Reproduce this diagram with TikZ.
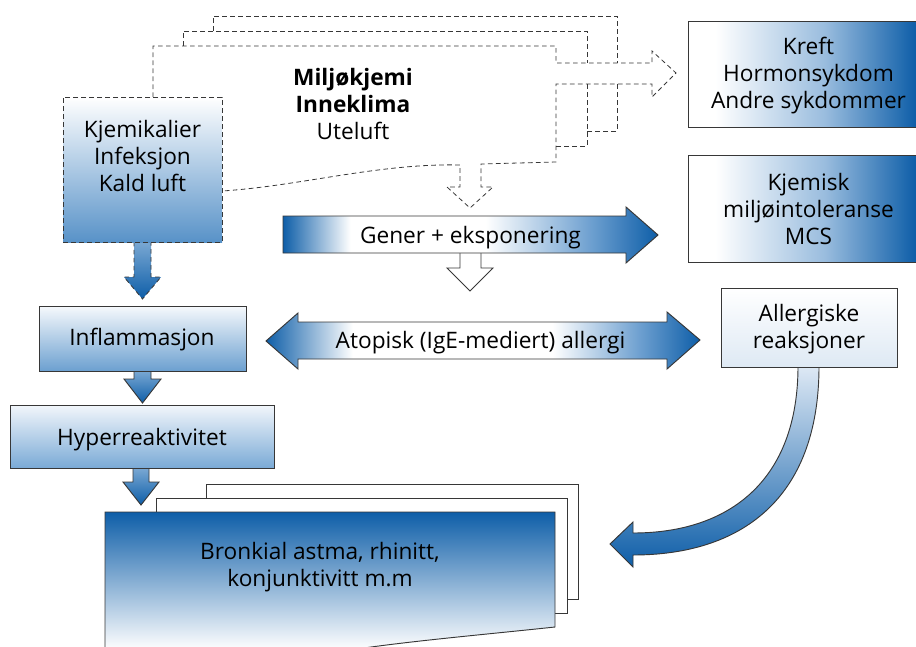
\documentclass[tikz,border=0pt]{standalone}
\usepackage{fontspec}
\setmainfont{Open Sans}
\usetikzlibrary{fit,calc}
\definecolor{blueD}{RGB}{14,94,168}
\definecolor{blueM}{RGB}{110,160,208}
\definecolor{blueK}{RGB}{88,146,200}
\definecolor{lineC}{RGB}{55,55,55}
\pgfdeclarehorizontalshading{genershade}{100bp}{color(0bp)=(blueD); color(25bp)=(blueD); color(34bp)=(white); color(52bp)=(white); color(66bp)=(blueM); color(75bp)=(blueD); color(100bp)=(blueD)}
\pgfdeclarehorizontalshading{atopshade}{100bp}{color(0bp)=(blueD); color(25bp)=(blueD); color(35bp)=(white); color(58bp)=(white); color(68bp)=(blueM); color(75bp)=(blueD); color(100bp)=(blueD)}
\pgfdeclarehorizontalshading{boxshade}{100bp}{color(0bp)=(white); color(25bp)=(white); color(31bp)=(white); color(55bp)=(blueM!70); color(75bp)=(blueD); color(100bp)=(blueD)}
\tikzset{
  txt/.style={font=\fontsize{17}{20.25}\selectfont, align=center, inner sep=0pt},
  frame/.style={draw=lineC, line width=0.7pt},
  dashline/.style={draw=lineC, line width=0.6pt, dash pattern=on 3.5pt off 2.5pt},
  box/.style={frame, inner sep=0pt},
  downarrow/.style={frame, top color=blueK!80, bottom color=blueD},
}
\begin{document}
\begin{tikzpicture}[x=0.75pt,y=-0.75pt]
\useasboundingbox (0,0) rectangle (916,646);

% ---- dashed environment shape ----
\path[dashline] (213,31) -- (213,16) -- (617,16) -- (617,63);
\path[dashline] (617,84) -- (617,131) -- (587,131);
\path[dashline] (183,46) -- (183,31) -- (587,31) -- (587,63);
\path[dashline] (587,84) -- (587,146) -- (556,146);
\path[dashline] (153,97) -- (153,46) -- (556,46) -- (556,63) -- (652,63) -- (652,51) -- (676,73) -- (652,97) -- (652,84) -- (556,84) -- (556,162) -- (481,164) -- (481,187) -- (493,187) -- (470,208) -- (447,187) -- (460,187) -- (460,165) .. controls (380,163) and (300,186) .. (222,191);
\node[txt] (env) at (353,104) {\textbf{Miljøkjemi}\\\textbf{Inneklima}\\Uteluft};

% ---- Kjemikalier box and its arrow ----
\path[dashline, top color=blueK!80, bottom color=blueD] (134,242) -- (151,242) -- (151,277) -- (161,277) -- (142.5,299) -- (124,277) -- (134,277) -- cycle;
\node[fit={(63,97)(222,242)}, inner sep=0pt, dashline, top color=white, bottom color=blueK] (kjem) {};
\node[txt] (kjemtxt) at (142.5,156) {Kjemikalier\\Infeksjon\\Kald luft};

% ---- left column ----
\path[downarrow] (134,371) -- (151,371) -- (151,379) -- (161,379) -- (142.5,403) -- (124,379) -- (134,379) -- cycle;
\node[fit={(39,306)(246,371)}, box, top color={rgb,255:red,246;green,249;blue,252}, bottom color={rgb,255:red,108;green,160;blue,208}] (infl) {};
\node[txt] (infltxt) at (142,340) {Inflammasjon};
\path[downarrow] (133,468) -- (149,468) -- (149,482) -- (159,482) -- (141,505) -- (123,482) -- (133,482) -- cycle;
\node[fit={(10,405)(274,468)}, box, top color={rgb,255:red,242;green,246;blue,251}, bottom color={rgb,255:red,122;green,170;blue,214}] (hyper) {};
\node[txt] (hypertxt) at (142,439.5) {Hyperreaktivitet};

% ---- Gener + eksponering ----
\path[frame, fill=white] (460,250) -- (460,268) -- (447,268) -- (470,291) -- (493,268) -- (481,268) -- (481,250);
\path[frame, shading=genershade] (283,216) -- (626,216) -- (626,207) -- (658,235) -- (626,263) -- (626,253) -- (283,253) -- cycle;
\node[txt] (gener) at (470.5,237.5) {Gener + eksponering};

% ---- Atopisk allergi ----
\path[frame, shading=atopshade] (266,341) -- (298,313) -- (298,322) -- (667,322) -- (667,312) -- (700,340) -- (667,369) -- (667,359) -- (298,359) -- (298,369) -- cycle;
\node[txt] (atop) at (480.5,342.5) {Atopisk (IgE-mediert) allergi};

% ---- right boxes ----
\node[fit={(688,21)(916,127)}, box, shading=boxshade] (kreft) {};
\node[txt] (krefttxt) at (808.5,76) {Kreft\\Hormonsykdom\\Andre sykdommer};
\node[fit={(688,155)(916,262)}, box, shading=boxshade] (mcs) {};
\node[txt] (mcstxt) at (808.5,208.5) {Kjemisk\\miljøintoleranse\\MCS};

% ---- curved arrow ----
\path[frame, top color={rgb,255:red,222;green,233;blue,245}, bottom color=blueD] (819,366) .. controls (819,500) and (740,555) .. (633,555) -- (633,567) -- (610,544) -- (633,522) -- (633,533) .. controls (730,533) and (798,480) .. (798,366) -- cycle;
\node[fit={(721,288)(897,367)}, box, top color=white, bottom color={rgb,255:red,222;green,233;blue,244}] (allerg) {};
\node[txt] (allergtxt) at (809,329) {Allergiske\\reaksjoner};

% ---- Bronkial stack ----
\path[frame, fill=white] (206,599) -- (206,484) -- (578,484) -- (578,599) -- cycle;
\path[frame, fill=white] (156,613) -- (156,498) -- (567,498) -- (567,613) -- cycle;
\path[frame, top color=blueD, bottom color=white] (105,650) -- (105,512) -- (555,512) -- (555,627) .. controls (480,635) and (410,641) .. (350,650) -- cycle;
\node[txt] (bronk) at (320,567) {Bronkial astma, rhinitt,\\konjunktivitt m.m};
\end{tikzpicture}
\end{document}
